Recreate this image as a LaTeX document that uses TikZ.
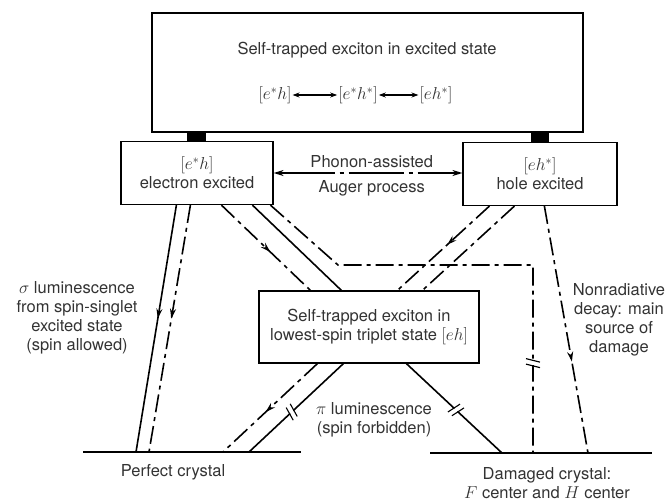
\documentclass[tikz,border=0pt]{standalone}
\usepackage{fontspec}
\setmainfont{TeX Gyre Heros}
\usetikzlibrary{arrows.meta,calc,decorations.markings}

\begin{document}
\begin{tikzpicture}[
  x=1pt,y=-1pt,
  font=\fontsize{16.5}{19}\selectfont,
  line cap=butt,line join=miter,
  statebox/.style={draw,line width=1.2pt,align=center,inner sep=0pt,fill=white,text=black!80},
  emit/.style={line width=1.6pt},
  dashdot/.style={line width=1.6pt,dash pattern=on 18pt off 5pt on 4pt off 5pt},
  midarrow/.style={postaction={decorate},decoration={markings,
      mark=at position #1 with {\arrow{Stealth[length=10pt,width=6pt]}}}},
  brk/.style={postaction={decorate},decoration={markings,
      mark=at position #1 with {\fill[white] (-2pt,-7pt) rectangle (2pt,7pt);
        \draw[solid,line width=1.1pt] (-4.5pt,-7pt)--(-1pt,7pt) (1pt,-7pt)--(4.5pt,7pt);}}},
  ground/.style={line width=2.2pt},
  note/.style={align=center,text=black!80,inner sep=0pt}
]
\useasboundingbox (0,0) rectangle (665,501);

% excited state and its two components
\node[statebox,minimum width=431pt,minimum height=119pt] (top) at (367.5,72.5) {};
\node[note] (ttl) at (367,50) {Self-trapped exciton in excited state};
\node[note,inner sep=1pt] (f1) at (275,95) {$[e^*h]$};
\node[note,inner sep=1pt] (f2) at (358,95) {$[e^*h^*]$};
\node[note,inner sep=1pt] (f3) at (436,95) {$[eh^*]$};
\draw[line width=1.1pt,{Stealth[length=7pt,width=5pt]}-{Stealth[length=7pt,width=5pt]}] (f1)--(f2);
\draw[line width=1.1pt,{Stealth[length=7pt,width=5pt]}-{Stealth[length=7pt,width=5pt]}] (f2)--(f3);

\node[statebox,minimum width=152pt,minimum height=63pt] (elec) at (197,173) {$[e^*h]$\\electron excited};
\node[statebox,minimum width=154pt,minimum height=63pt] (hole) at (540,174) {$[eh^*]$\\hole excited};
\node[statebox,minimum width=220pt,minimum height=72pt] (trip) at (369,327) {Self-trapped exciton in\\lowest-spin triplet state $[eh]$};

\fill ($(top.south west)+(36,0)$) rectangle ($(elec.north west)+(86,0)$);
\fill ($(top.south west)+(380,0)$) rectangle ($(hole.north west)+(87,0)$);

% Auger exchange
\draw[line width=1.4pt,dash pattern=on 55pt off 5pt on 4pt off 5pt,
  {Stealth[length=10pt,width=6pt]}-{Stealth[length=10pt,width=6pt]}]
  (elec.east) -- node[note,above=5pt,pos=.52]{Phonon-assisted}
  node[note,below=7pt,pos=.52]{Auger process} (elec.east -| hole.west);

% crystals
\coordinate (perfL) at (83,452);
\coordinate (perfR) at (301,452);
\coordinate (damL) at (430,453);
\coordinate (damR) at (652,453);
\draw[ground] (perfL) -- (perfR);
\draw[ground] (damL) -- (damR);
\node[note] (perf) at (173,472) {Perfect crystal};
\node[note] (dam) at (547,483) {Damaged crystal:\\$F$ center and $H$ center};

% decay channels
\draw[emit,midarrow=.46] ($(elec.south west)+(56,0)$) -- ($(perfL)+(53,0)$);
\draw[dashdot,midarrow=.46] ($(elec.south west)+(70,0)$) -- ($(perfL)+(66,0)$);
\draw[dashdot,midarrow=.55] ($(elec.south west)+(101,0)$) -- ($(trip.north west)+(52,0)$);
\draw[emit] ($(elec.south west)+(132,0)$) -- ($(trip.north west)+(83,0)$);
\coordinate (bend) at (338,265);
\draw[dashdot,brk=.81] ($(elec.south west)+(150,0)$) -- (bend) -| ($(damL)+(103,0)$);

\draw[dashdot,midarrow=.46] ($(hole.south west)+(27,0)$) -- ($(trip.north west)+(139,0)$);
\draw[dashdot] ($(hole.south west)+(52,0)$) -- ($(trip.north west)+(164,0)$);
\draw[dashdot,midarrow=.63] ($(hole.south west)+(82,0)$) -- ($(damL)+(158,0)$);

\draw[dashdot,midarrow=.55] ($(trip.south west)+(59,0)$) -- ($(perfL)+(140,0)$);
\draw[emit,brk=.55] ($(trip.south west)+(85,0)$) -- ($(perfL)+(166,0)$);
\draw[emit,brk=.52] ($(trip.south west)+(148,0)$) -- ($(damL)+(72,0)$);

% labels
\node[note] (sig) at (77,318) {$\sigma$ luminescence\\from spin-singlet\\excited state\\(spin allowed)};
\node[note] (nonrad) at (619,320) {Nonradiative\\decay: main\\source of\\damage};
\node[note] (pilum) at (374,420) {$\pi$ luminescence\\(spin forbidden)};
\end{tikzpicture}
\end{document}
